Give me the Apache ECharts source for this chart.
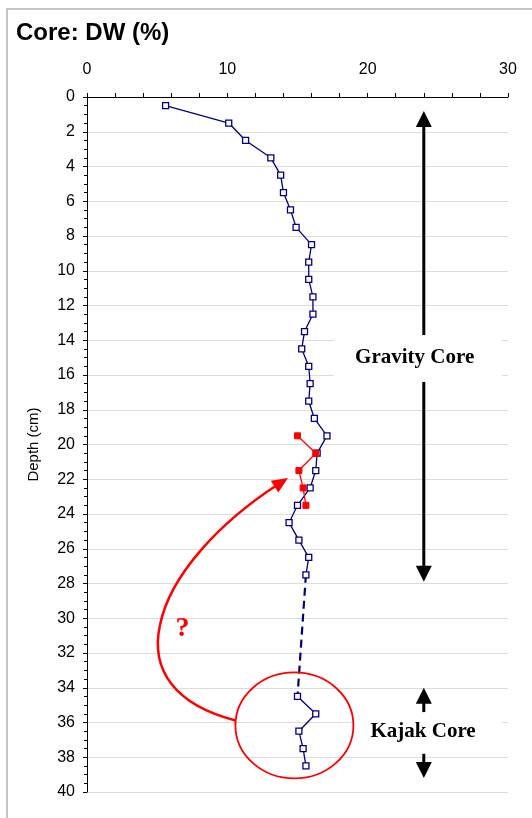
<!DOCTYPE html>
<html>
<head>
<meta charset="utf-8">
<script src="https://cdn.jsdelivr.net/npm/echarts@6/dist/echarts.min.js"></script>
<style>
  html, body { margin: 0; padding: 0; background: #fff; }
  #chart { width: 532px; height: 818px; }
</style>
</head>
<body>
<div id="chart"></div>
<script>
// Dry weight (%) down the core, by depth (cm)
const gravityDepth = [0.5, 1.5, 2.5, 3.5, 4.5, 5.5, 6.5, 7.5, 8.5, 9.5, 10.5, 11.5, 12.5, 13.5,
  14.5, 15.5, 16.5, 17.5, 18.5, 19.5, 20.5, 21.5, 22.5, 23.5, 24.5, 25.5, 26.5, 27.5];
const gravityDW = [5.6, 10.1, 11.3, 13.1, 13.8, 14.0, 14.5, 14.9, 16.0, 15.8, 15.8, 16.1, 16.1, 15.5,
  15.3, 15.8, 15.9, 15.8, 16.2, 17.1, 16.4, 16.3, 15.9, 15.0, 14.4, 15.1, 15.8, 15.6];

const kajakDepth = [34.5, 35.5, 36.5, 37.5, 38.5];
const kajakDW = [15.0, 16.3, 15.1, 15.4, 15.6];

// Kajak profile placed at the depth where it may belong in the gravity core
const shiftedDepth = [19.5, 20.5, 21.5, 22.5, 23.5];
const shiftedDW = [15.0, 16.3, 15.1, 15.4, 15.6];

const xTicks = [0, 10, 20, 30];
const yTicks = [0, 2, 4, 6, 8, 10, 12, 14, 16, 18, 20, 22, 24, 26, 28, 30, 32, 34, 36, 38, 40];

const pairs = (xs, ys) => xs.map((x, i) => [x, ys[i]]);

// gap between the two cores, bridged with a dashed line
const gapLine = [
  [gravityDW[gravityDW.length - 1], gravityDepth[gravityDepth.length - 1]],
  [kajakDW[0], kajakDepth[0]]
];

const NAVY = '#000080';
const SANS = '"Liberation Sans", Arial, sans-serif';
const SERIF = '"Liberation Serif", "Times New Roman", serif';

const chart = echarts.init(document.getElementById('chart'), null, { renderer: 'canvas' });

const hollowSquare = {
  symbol: 'rect', symbolSize: 6,
  itemStyle: { color: '#fff', borderColor: NAVY, borderWidth: 1.3 }
};

chart.setOption({
  animation: false,
  backgroundColor: '#fff',
  title: {
    text: 'Core: DW (%)', left: 11, top: 16,
    textStyle: { fontFamily: SANS, fontWeight: 'bold', fontSize: 24, color: '#000' }
  },
  grid: { left: 87, top: 97, right: 24, bottom: 26 },
  xAxis: {
    type: 'value', position: 'top', min: xTicks[0], max: xTicks[xTicks.length - 1], interval: 10,
    axisLine: { show: true, lineStyle: { color: '#000', width: 1 } },
    axisTick: { show: true, length: 4, lineStyle: { color: '#000' } },
    minorTick: { show: true, splitNumber: 5, length: 4, lineStyle: { color: '#000' } },
    splitLine: { show: false },
    axisLabel: { fontFamily: SANS, fontSize: 16, color: '#000', margin: 19 }
  },
  yAxis: {
    type: 'value', inverse: true, min: yTicks[0], max: yTicks[yTicks.length - 1], interval: 2,
    name: 'Depth (cm)', nameLocation: 'middle', nameRotate: 90, nameGap: 46,
    nameTextStyle: { fontFamily: SANS, fontSize: 15, color: '#000' },
    axisLine: { show: true, lineStyle: { color: '#000', width: 1 } },
    axisTick: { show: true, length: 4, lineStyle: { color: '#000' } },
    minorTick: { show: true, splitNumber: 4, length: 3, lineStyle: { color: '#000' } },
    splitLine: { show: true, lineStyle: { color: '#dcdcdc', width: 1 } },
    axisLabel: { fontFamily: SANS, fontSize: 16, color: '#000', margin: 12 }
  },
  series: [
    {
      name: 'Gravity core', type: 'line', data: pairs(gravityDW, gravityDepth),
      ...hollowSquare, lineStyle: { color: NAVY, width: 1.3 }, z: 3
    },
    {
      name: 'Gap', type: 'line', data: gapLine, symbol: 'none',
      lineStyle: { color: NAVY, width: 2.2, type: [8, 5] }, z: 2
    },
    {
      name: 'Kajak core', type: 'line', data: pairs(kajakDW, kajakDepth),
      ...hollowSquare, lineStyle: { color: NAVY, width: 1.3 }, z: 3
    },
    {
      name: 'Kajak shifted', type: 'line', data: pairs(shiftedDW, shiftedDepth),
      symbol: 'rect', symbolSize: 6,
      itemStyle: { color: '#ff0000', borderColor: '#ff0000' },
      lineStyle: { color: '#ff0000', width: 1.3 }, z: 4
    }
  ]
});

// Annotations: core extents, labels, and the suggested match
const px = (dw, depth) => chart.convertToPixel({ gridIndex: 0 }, [dw, depth]);

function arrowHead(tip, dir, len, half, color) {
  const [tx, ty] = tip;
  const bx = tx - dir[0] * len, by = ty - dir[1] * len;
  const nx = -dir[1], ny = dir[0];
  return {
    type: 'polygon', z: 20,
    shape: { points: [[tx, ty], [bx + nx * half, by + ny * half], [bx - nx * half, by - ny * half]] },
    style: { fill: color }
  };
}

function vArrow(x, yFrom, yTo, color) {
  // shaft from yFrom to yTo with a head pointing at yTo
  const dir = yTo > yFrom ? 1 : -1;
  return [
    { type: 'line', z: 20, shape: { x1: x, y1: yFrom, x2: x, y2: yTo - dir * 12 },
      style: { stroke: color, lineWidth: 3 } },
    arrowHead([x, yTo], [0, dir], 16, 8, color)
  ];
}

const gArrowX = px(24, 0)[0];
const gTop = px(24, 0.8)[1], gMidTop = px(24, 13.7)[1], gMidBot = px(24, 16.4)[1], gBot = px(24, 27.9)[1];
const kTop = px(24, 34.0)[1], kStemTop = px(24, 35.4)[1], kStemBot = px(24, 37.8)[1], kBot = px(24, 39.2)[1];

const gLabel = px(23.35, 15.0);
const kLabel = px(23.95, 36.5);
const ellipseC = px(14.78, 36.17);
const qMark = px(6.8, 30.6);

const curveStart = [ellipseC[0] - 59, ellipseC[1] - 5];
const tip = [288, 478];
const dirLen = Math.hypot(14, -9);
const tipDir = [14 / dirLen, -9 / dirLen];

const graphics = [
  // outer frame
  { type: 'rect', z: 0, shape: { x: 7, y: 9, width: 540, height: 830 },
    style: { fill: null, stroke: '#c4c4c4', lineWidth: 2 } },
  // label backgrounds
  { type: 'rect', z: 15, shape: { x: 334, y: gLabel[1] - 18, width: 168, height: 37 },
    style: { fill: '#fff' } },
  { type: 'rect', z: 15, shape: { x: 352, y: kLabel[1] - 16, width: 150, height: 32 },
    style: { fill: '#fff' } },
  { type: 'text', z: 21, x: gLabel[0], y: gLabel[1],
    style: { text: 'Gravity Core', font: 'bold 21px ' + SERIF, fill: '#000',
      align: 'center', verticalAlign: 'middle' } },
  { type: 'text', z: 21, x: kLabel[0], y: kLabel[1],
    style: { text: 'Kajak Core', font: 'bold 21px ' + SERIF, fill: '#000',
      align: 'center', verticalAlign: 'middle' } },
  ...vArrow(gArrowX, gMidTop, gTop, '#000'),
  ...vArrow(gArrowX, gMidBot, gBot, '#000'),
  ...vArrow(gArrowX, kStemTop, kTop, '#000'),
  ...vArrow(gArrowX, kStemBot, kBot, '#000'),
  // ellipse around the kajak core profile
  { type: 'ellipse', z: 18, shape: { cx: ellipseC[0], cy: ellipseC[1], rx: 59, ry: 53 },
    style: { fill: null, stroke: '#ff0000', lineWidth: 1.8 } },
  // curved arrow pointing to the possible position
  { type: 'bezierCurve', z: 18,
    shape: { x1: curveStart[0], y1: curveStart[1], cpx1: 175, cpy1: 705, cpx2: 150, cpy2: 670, x2: 160, y2: 625 },
    style: { stroke: '#ff0000', lineWidth: 2.5, fill: null } },
  { type: 'bezierCurve', z: 18,
    shape: { x1: 160, y1: 625, cpx1: 170, cpy1: 575, cpx2: 220, cpy2: 522, x2: tip[0] - tipDir[0] * 12, y2: tip[1] - tipDir[1] * 12 },
    style: { stroke: '#ff0000', lineWidth: 2.5, fill: null } },
  arrowHead(tip, tipDir, 16, 7, '#ff0000'),
  { type: 'text', z: 21, x: qMark[0], y: qMark[1],
    style: { text: '?', font: 'bold 28px ' + SERIF, fill: '#ff0000',
      align: 'center', verticalAlign: 'middle' } }
];

chart.setOption({ graphic: graphics });
</script>
</body>
</html>
